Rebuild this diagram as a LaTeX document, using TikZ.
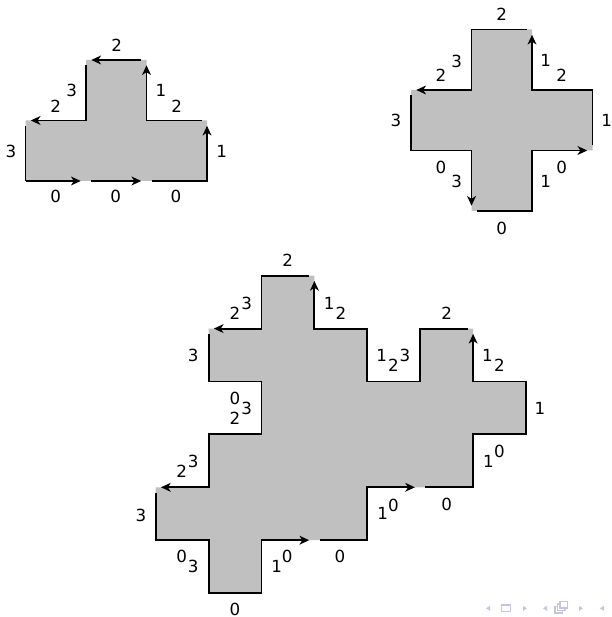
\documentclass[tikz,border=0pt]{standalone}
\usepackage{fontspec}
\setmainfont{DejaVu Sans}
\usetikzlibrary{arrows.meta}
\definecolor{tilegray}{RGB}{192,192,192}
\definecolor{navblue}{RGB}{196,196,234}

\begin{document}
\begin{tikzpicture}[x=0.02cm,y=-0.02cm,
  rim/.style={line width=1.1pt,shorten <=3pt},
  arr/.style={rim,-{Stealth[length=5.5pt,width=5pt,inset=1.6pt]},shorten >=3pt},
  lab/.style={inner sep=0pt,font=\fontsize{9.5}{11}\selectfont}]
  \useasboundingbox (0,0) rectangle (611,617);

  % T tile
  \begin{scope}[shift={(25.5,60)},scale=60.5]
    \fill[tilegray] (0,2) -- (3,2) -- (3,1) -- (2,1) -- (2,0) -- (1,0) -- (1,1) -- (0,1) -- cycle;
    \draw[arr,shorten <=0pt] (0,2) -- (1,2);
    \draw[arr] (1,2) -- (2,2);
    \draw[arr] (2,2) -- (3,2) -- (3,1);
    \draw[arr] (3,1) -- (2,1) -- (2,0);
    \draw[arr] (2,0) -- (1,0);
    \draw[arr] (1,0) -- (1,1) -- (0,1);
    \draw[rim] (0,1) -- (0,2);
  \end{scope}
  \foreach \x/\y/\t [count=\i] in {116.7/45/2, 71.7/90.7/3, 55.7/106/2, 161/90.7/1,
      176.7/106/2, 11/151.7/3, 221.7/151.7/1, 55.7/196.7/0, 115.7/196.7/0, 176/196.7/0}
    \node[lab] (t\i) at (\x,\y) {\t};

  % cross tile
  \begin{scope}[shift={(411,29.5)},scale=60.5]
    \fill[tilegray] (1,3) -- (2,3) -- (2,2) -- (3,2) -- (3,1) -- (2,1) -- (2,0) -- (1,0)
      -- (1,1) -- (0,1) -- (0,2) -- (1,2) -- cycle;
    \draw[arr] (1,3) -- (2,3) -- (2,2) -- (3,2);
    \draw[arr] (3,2) -- (3,1) -- (2,1) -- (2,0);
    \draw[arr] (2,0) -- (1,0) -- (1,1) -- (0,1);
    \draw[arr] (0,1) -- (0,2) -- (1,2) -- (1,3);
  \end{scope}
  \foreach \x/\y/\t [count=\i] in {501.7/14/2, 456.7/61.7/3, 441/75/2, 545.7/60.7/1,
      561.7/75/2, 396/120.7/3, 606.7/120.7/1, 441/167.3/0, 456.7/181.7/3,
      561.7/167.3/0, 545.7/181.7/1, 501.7/228.3/0}
    \node[lab] (c\i) at (\x,\y) {\t};

  % big tile
  \begin{scope}[shift={(155.7,275.7)},scale=52.9]
    \fill[tilegray] (0,4) -- (0,5) -- (1,5) -- (1,6) -- (2,6) -- (2,5) -- (4,5) -- (4,4)
      -- (6,4) -- (6,3) -- (7,3) -- (7,2) -- (6,2) -- (6,1) -- (5,1) -- (5,2) -- (4,2)
      -- (4,1) -- (3,1) -- (3,0) -- (2,0) -- (2,1) -- (1,1) -- (1,2) -- (2,2) -- (2,3)
      -- (1,3) -- (1,4) -- cycle;
    \draw[arr] (0,4) -- (0,5) -- (1,5) -- (1,6) -- (2,6) -- (2,5) -- (3,5);
    \draw[arr] (3,5) -- (4,5) -- (4,4) -- (5,4);
    \draw[arr] (5,4) -- (6,4) -- (6,3) -- (7,3) -- (7,2) -- (6,2) -- (6,1);
    \draw[arr] (6,1) -- (5,1) -- (5,2) -- (4,2) -- (4,1) -- (3,1) -- (3,0);
    \draw[arr] (3,0) -- (2,0) -- (2,1) -- (1,1);
    \draw[arr] (1,1) -- (1,2) -- (2,2) -- (2,3) -- (1,3) -- (1,4) -- (0,4);
  \end{scope}
  \foreach \x/\y/\t [count=\i] in {287.7/260.7/2, 235/313.3/2, 246.7/303.3/3,
      329.3/303.3/1, 341/313.3/2, 193.3/355.7/3, 235/398.3/0, 235/418.3/2,
      246.7/408.3/3, 446.7/313.3/2, 381.7/355.7/1, 393.3/365/2, 405/355.7/3,
      487.3/355.7/1, 499.3/365/2, 540/408.3/1, 488.3/461.7/1, 499.3/451.7/0,
      446.7/504.3/0, 382.7/513.3/1, 393.3/505/0, 181.7/471.7/2, 193.3/461.7/3,
      141/515/3, 181.7/556.7/0, 193.3/566.7/3, 235/609.5/0, 276.7/566.7/1,
      287.3/556.7/0, 340/556.7/0}
    \node[lab] (b\i) at (\x,\y) {\t};

  % navigation symbols
  \fill[navblue] (486,608.3) -- (490,605.8) -- (490,610.8) -- cycle;
  \draw[navblue,line width=0.8pt] (501.5,604.8) rectangle (510.5,611.5);
  \fill[navblue] (527,608.3) -- (523,605.8) -- (523,610.8) -- cycle;
  \fill[navblue] (543,608.3) -- (547,605.8) -- (547,610.8) -- cycle;
  \foreach \d in {0,2.5,5}
    \draw[navblue,line width=0.7pt,fill=white] (555+\d,606.5-\d) rectangle (562.5+\d,613-\d);
  \fill[navblue] (583,608.3) -- (579,605.8) -- (579,610.8) -- cycle;
  \fill[navblue] (600,608.3) -- (604,605.8) -- (604,610.8) -- cycle;
\end{tikzpicture}
\end{document}
